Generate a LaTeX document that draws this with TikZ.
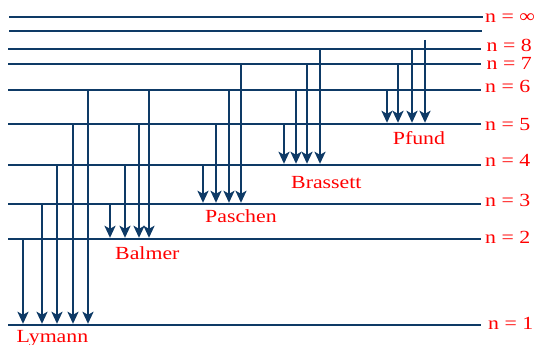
\documentclass[tikz,border=0pt]{standalone}
\usepackage{fontspec}
\newfontfamily\lblfont[FakeStretch=1.18]{Liberation Serif}
\usetikzlibrary{arrows.meta}
\definecolor{lvl}{RGB}{14,58,102}
\definecolor{lbl}{RGB}{255,0,0}
\tikzset{
  level/.style={draw=lvl, line width=2.5pt},
  arr/.style={draw=lvl, line width=2.4pt, -{Stealth[length=12pt,width=11pt,inset=3pt]}},
  nlab/.style={anchor=base west, inner sep=0pt, text=lbl, font=\lblfont\fontsize{18.5}{20}\selectfont},
  slab/.style={anchor=base west, inner sep=0pt, text=lbl, font=\lblfont\fontsize{18.5}{20}\selectfont}
}
\begin{document}
\begin{tikzpicture}[x=1pt,y=-1pt]
\useasboundingbox (0,0) rectangle (541,345);
% level heights
\def\yInf{17}\def\yTop{31}\def\yE{49}\def\yS{64}\def\ySix{90}
\def\yF{124}\def\yFour{165}\def\yT{204}\def\yTwo{239}\def\yOne{325}
% level lines
\coordinate (LinfW) at (9,\yInf);  \coordinate (LinfE) at (482.5,\yInf);
\coordinate (LtopW) at (9,\yTop);  \coordinate (LtopE) at (482,\yTop);
\foreach \nm/\yy in {8/\yE,7/\yS,6/\ySix,5/\yF,4/\yFour,3/\yT,2/\yTwo,1/\yOne}{
  \coordinate (L\nm W) at (8,\yy); \coordinate (L\nm E) at (481,\yy);
}
\draw[level] (LinfW) -- (LinfE);
\draw[level] (LtopW) -- (LtopE);
\foreach \nm in {8,7,6,5,4,3,2,1}{ \draw[level] (L\nm W) -- (L\nm E); }
% level labels
\node[nlab] (ninf) at (485,22.7) {n = ∞};
\node[nlab] (n8) at (486.5,51.7) {n = 8};
\node[nlab] (n7) at (486.5,70) {n = 7};
\node[nlab] (n6) at (485,92.7) {n = 6};
\node[nlab] (n5) at (485,130) {n = 5};
\node[nlab] (n4) at (485,166.7) {n = 4};
\node[nlab] (n3) at (485,206.7) {n = 3};
\node[nlab] (n2) at (485,243.3) {n = 2};
\node[nlab] (n1) at (488,329) {n = 1};
% Lyman series
\foreach \xx/\ys in {23/\yTwo,42/\yT,57/\yFour,73/\yF,88/\ySix}{
  \draw[arr] (\xx,\ys) -- (\xx,\yOne-1.2);
}
% Balmer series
\foreach \xx/\ys in {110/\yT,125/\yFour,139/\yF,149/\ySix}{
  \draw[arr] (\xx,\ys) -- (\xx,\yTwo-1.2);
}
% Paschen series
\foreach \xx/\ys in {203/\yFour,216/\yF,229/\ySix,241/\yS}{
  \draw[arr] (\xx,\ys) -- (\xx,\yT-1.2);
}
% Brackett series
\foreach \xx/\ys in {284/\yF,296/\ySix,307/\yS,320/\yE}{
  \draw[arr] (\xx,\ys) -- (\xx,\yFour-1.2);
}
% Pfund series
\foreach \xx/\ys in {387/\ySix,398/\yS,412/\yE,425/40}{
  \draw[arr] (\xx,\ys) -- (\xx,\yF-1.2);
}
% series labels
\node[slab] (lyman) at (16.5,342) {Lymann};
\node[slab] (balmer) at (115,259.3) {Balmer};
\node[slab] (paschen) at (205,222.7) {Paschen};
\node[slab] (brassett) at (291,188.3) {Brassett};
\node[slab] (pfund) at (392.7,144.3) {Pfund};
\end{tikzpicture}
\end{document}
